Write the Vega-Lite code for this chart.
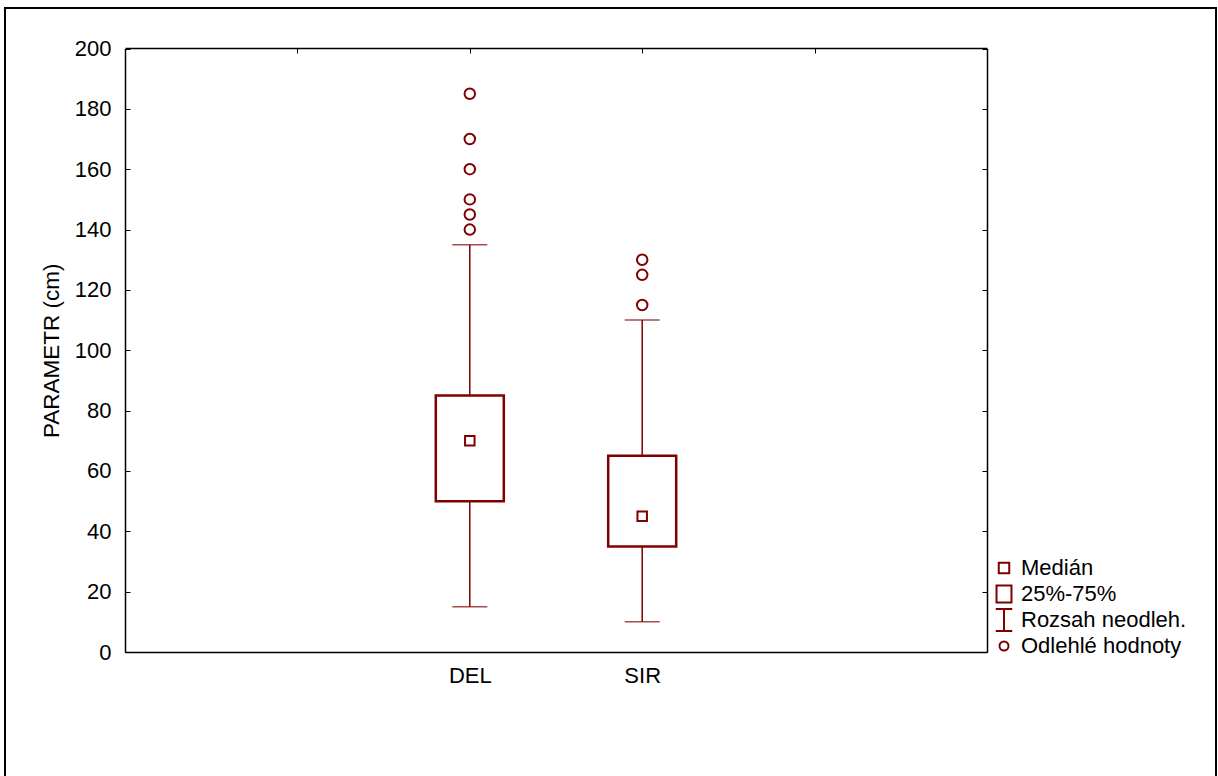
{
  "$schema": "https://vega.github.io/schema/vega-lite/v6.json",
  "width": 1211,
  "height": 774,
  "autosize": {"type": "none"},
  "padding": {"left": 5, "top": 8, "right": 2, "bottom": -6},
  "background": "white",
  "config": {
    "font": "Liberation Sans",
    "view": {"stroke": "#000000", "strokeWidth": 2},
    "axis": {
      "grid": false,
      "domainColor": "#000000",
      "domainWidth": 1.5,
      "tickColor": "#000000",
      "tickWidth": 1,
      "tickSize": -5,
      "labelFontSize": 22,
      "labelColor": "#000000",
      "labelFont": "Liberation Sans"
    },
    "legend": {"labelFont": "Liberation Sans"}
  },
  "datasets": {
    "boxes": [
      {"grp": "DEL", "lo": 15, "q1": 50, "med": 70, "q3": 85, "hi": 135},
      {"grp": "SIR", "lo": 10, "q1": 35, "med": 45, "q3": 65, "hi": 110}
    ],
    "outliers": [
      {"grp": "DEL", "val": 140},
      {"grp": "DEL", "val": 145},
      {"grp": "DEL", "val": 150},
      {"grp": "DEL", "val": 160},
      {"grp": "DEL", "val": 170},
      {"grp": "DEL", "val": 185},
      {"grp": "SIR", "val": 115},
      {"grp": "SIR", "val": 125},
      {"grp": "SIR", "val": 130}
    ],
    "legend": [
      {"leg": "Medián"},
      {"leg": "25%-75%"},
      {"leg": "Rozsah neodleh."},
      {"leg": "Odlehlé hodnoty"}
    ]
  },
  "layer": [
    {
      "data": {"name": "boxes"},
      "mark": {"type": "rule", "color": "#800000", "strokeWidth": 1.5},
      "encoding": {
        "x": {
          "field": "grp", "type": "nominal",
          "scale": {"type": "point", "domain": ["a", "DEL", "SIR", "b"], "range": [120, 982], "padding": 1},
          "axis": {"orient": "bottom", "offset": -130, "ticks": false, "title": null, "labelPadding": 13, "labelAngle": 0,
                   "labelExpr": "datum.value == 'a' || datum.value == 'b' ? '' : datum.value"}
        },
        "y": {
          "field": "lo", "type": "quantitative",
          "scale": {"domain": [0, 200], "range": [644, 40.5], "nice": false, "zero": false},
          "axis": {"orient": "left", "offset": -120, "values": [0, 20, 40, 60, 80, 100, 120, 140, 160, 180, 200],
                   "labelPadding": 19, "title": "PARAMETR (cm)", "titleFontSize": 22.5, "titleFontWeight": "normal",
                   "titleColor": "#000000", "titlePadding": 11, "titleFont": "Liberation Sans"}
        },
        "y2": {"field": "hi"}
      }
    },
    {
      "data": {"name": "boxes"},
      "mark": {"type": "tick", "color": "#800000", "size": 35, "thickness": 1.5, "orient": "horizontal"},
      "encoding": {
        "x": {"field": "grp", "type": "nominal",
              "axis": {"orient": "top", "offset": -40, "labels": false, "title": null, "ticks": true}},
        "y": {"field": "lo", "type": "quantitative",
              "axis": {"orient": "right", "offset": -229, "labels": false, "title": null,
                       "values": [0, 20, 40, 60, 80, 100, 120, 140, 160, 180, 200]}}
      }
    },
    {
      "data": {"name": "boxes"},
      "mark": {"type": "tick", "color": "#800000", "size": 35, "thickness": 1.5, "orient": "horizontal"},
      "encoding": {
        "x": {"field": "grp", "type": "nominal", "axis": null},
        "y": {"field": "hi", "type": "quantitative", "axis": null}
      }
    },
    {
      "data": {"name": "boxes"},
      "mark": {"type": "bar", "size": 68, "fill": "white", "stroke": "#800000", "strokeWidth": 2.5},
      "encoding": {
        "x": {"field": "grp", "type": "nominal", "axis": null},
        "y": {"field": "q1", "type": "quantitative", "axis": null},
        "y2": {"field": "q3"}
      }
    },
    {
      "data": {"name": "boxes"},
      "mark": {"type": "point", "shape": "square", "size": 90, "filled": false, "color": "#800000", "strokeWidth": 2, "opacity": 1},
      "encoding": {
        "x": {"field": "grp", "type": "nominal", "axis": null},
        "y": {"field": "med", "type": "quantitative", "axis": null}
      }
    },
    {
      "data": {"name": "outliers"},
      "mark": {"type": "point", "shape": "circle", "size": 110, "filled": false, "color": "#800000", "strokeWidth": 2, "opacity": 1},
      "encoding": {
        "x": {"field": "grp", "type": "nominal", "axis": null},
        "y": {"field": "val", "type": "quantitative", "axis": null}
      }
    },
    {
      "data": {"name": "legend"},
      "transform": [{"filter": "false"}],
      "mark": {"type": "point", "filled": false, "color": "#800000", "strokeWidth": 2, "opacity": 1},
      "encoding": {
        "shape": {
          "field": "leg", "type": "nominal",
          "scale": {"domain": ["Medián", "25%-75%", "Rozsah neodleh.", "Odlehlé hodnoty"],
                    "range": ["square", "M-0.88,-1H0.88V1H-0.88Z", "M-0.75,-1H0.75M0,-1V1M-0.75,1H0.75", "circle"]},
          "legend": {"orient": "none", "legendX": 987, "legendY": 547, "title": null, "labelFontSize": 22,
                     "labelColor": "#000000", "symbolStrokeColor": "#800000", "symbolStrokeWidth": 2,
                     "symbolFillColor": "transparent", "labelOffset": 5, "rowPadding": 0, "padding": 0, "labelLimit": 0,
                     "clipHeight": 26}
        },
        "size": {
          "field": "leg", "type": "nominal",
          "scale": {"type": "ordinal", "domain": ["Medián", "25%-75%", "Rozsah neodleh.", "Odlehlé hodnoty"],
                    "range": [110, 289, 484, 81]},
          "legend": {"orient": "none", "legendX": 987, "legendY": 547, "title": null, "labelFontSize": 22,
                     "labelColor": "#000000", "symbolStrokeColor": "#800000", "symbolStrokeWidth": 2,
                     "symbolFillColor": "transparent", "labelOffset": 5, "rowPadding": 0, "padding": 0, "labelLimit": 0,
                     "clipHeight": 26}
        }
      }
    }
  ],
  "resolve": {"axis": {"x": "independent", "y": "independent"}}
}
